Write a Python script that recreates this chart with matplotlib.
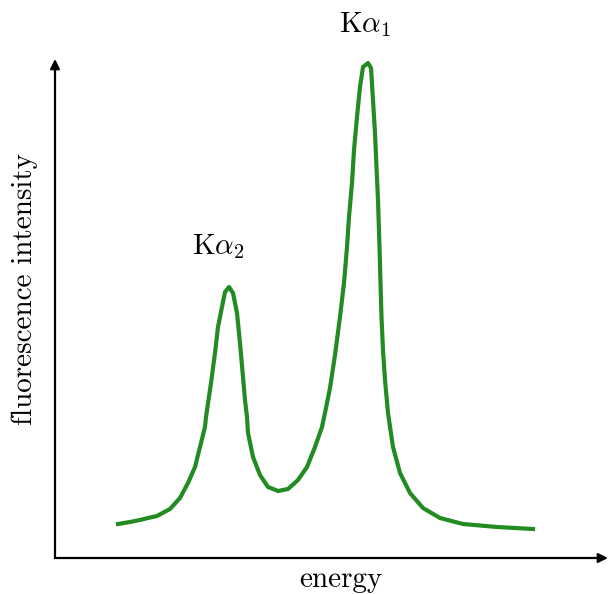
import matplotlib
matplotlib.use("Agg")
import matplotlib.pyplot as plt

plt.rcParams['mathtext.fontset'] = 'cm'
plt.rcParams['font.family'] = ['cmr10', 'DejaVu Serif']
plt.rcParams['axes.unicode_minus'] = False

# spectrum (arbitrary units)
energy = [63, 75, 85, 93, 102, 115, 125, 133, 140, 145, 150, 151,
          156, 160, 163, 167, 170, 174, 178, 182, 185, 188,
          190, 192, 193, 198, 205, 213, 223, 233, 243, 252,
          260, 267, 271, 275, 280, 285, 289, 292, 294, 297,
          299, 302, 305, 308, 313, 316, 318, 320, 321.5, 323,
          324.5, 325.5, 326.5, 328, 330, 333, 338, 345, 355, 368,
          385, 408, 442, 478]
intensity = [34, 36, 38, 40, 42, 49, 60, 75, 91, 111, 131, 141,
             175, 205, 231, 251, 266, 271, 265, 245, 215, 181,
             158, 141, 125, 101, 83, 71, 67, 69, 78, 91,
             111, 131, 150, 170, 203, 241, 275, 311, 341, 375,
             408, 441, 471, 491, 495, 490, 458, 425, 391, 358,
             311, 275, 241, 208, 178, 145, 111, 85, 65, 50,
             40, 34, 31, 29]

peak_labels = [r'$\mathrm{K}\alpha_2$', r'$\mathrm{K}\alpha_1$']
peak_label_x = [163, 310]
peak_label_y = [311, 533]

fig = plt.figure(figsize=(6.08, 5.94), dpi=100)
ax = fig.add_axes([55 / 608, 36 / 594, 553 / 608, 499 / 594])
ax.set_xlim(0, 553)
ax.set_ylim(0, 499)

ax.plot(energy, intensity, color='forestgreen', linewidth=3,
        solid_joinstyle='round')

for lab, lx, ly in zip(peak_labels, peak_label_x, peak_label_y):
    ax.text(lx, ly, lab, fontsize=21, ha='center', va='center', clip_on=False)

for s in ax.spines.values():
    s.set_visible(False)
ax.set_xticks([])
ax.set_yticks([])

arrow = dict(arrowstyle='-|>', color='black', lw=1.6, mutation_scale=14,
             shrinkA=0, shrinkB=0)
ax.annotate('', xy=(0, 1.0), xytext=(0, 0), xycoords='axes fraction',
            arrowprops=arrow, annotation_clip=False)
ax.annotate('', xy=(1.0, 0), xytext=(0, 0), xycoords='axes fraction',
            arrowprops=arrow, annotation_clip=False)

ax.set_xlabel('energy', fontsize=21)
ax.set_ylabel('fluorescence intensity', fontsize=21)
ax.xaxis.set_label_coords(0.517, -0.018)
ax.yaxis.set_label_coords(-0.03, 0.539)

fig.savefig('out.png', dpi=100)
